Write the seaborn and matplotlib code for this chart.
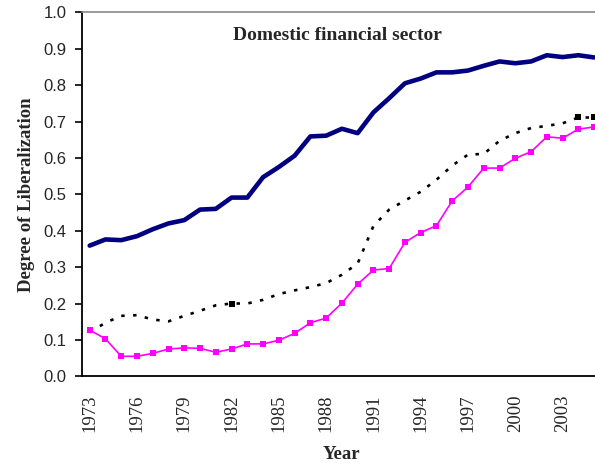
import matplotlib
matplotlib.use("Agg")
import matplotlib.pyplot as plt
import seaborn as sns
import pandas as pd
import numpy as np

years = list(range(1973, 2006))
domestic_fin = [0.359, 0.376, 0.374, 0.385, 0.404, 0.420, 0.429, 0.458, 0.460, 0.491,
                0.491, 0.547, 0.575, 0.606, 0.659, 0.661, 0.680, 0.668, 0.725, 0.764,
                0.805, 0.818, 0.835, 0.835, 0.840, 0.853, 0.865, 0.860, 0.865, 0.882,
                0.877, 0.882, 0.876]
series_dotted = [0.121, 0.147, 0.166, 0.168, 0.156, 0.151, 0.166, 0.180, 0.195, 0.200,
                 0.200, 0.210, 0.226, 0.236, 0.245, 0.256, 0.279, 0.310, 0.413, 0.458,
                 0.483, 0.507, 0.540, 0.579, 0.609, 0.611, 0.647, 0.668, 0.682, 0.688,
                 0.695, 0.711, 0.711]
series_pink = [0.127, 0.103, 0.055, 0.055, 0.063, 0.075, 0.078, 0.077, 0.066, 0.075,
               0.089, 0.089, 0.099, 0.118, 0.147, 0.160, 0.201, 0.253, 0.292, 0.296,
               0.368, 0.395, 0.414, 0.482, 0.520, 0.572, 0.572, 0.599, 0.617, 0.658,
               0.654, 0.679, 0.685]
dotted_marker_years = [1982, 2004, 2005]
label_years = list(range(1973, 2006, 3))
y_ticks = [0.0, 0.1, 0.2, 0.3, 0.4, 0.5, 0.6, 0.7, 0.8, 0.9, 1.0]

df = pd.DataFrame({"idx": np.arange(len(years)), "year": years,
                   "blue": domestic_fin, "dotted": series_dotted, "pink": series_pink})

sns.set_style("white")
plt.rcParams["font.family"] = ["Liberation Serif", "DejaVu Serif"]

fig = plt.figure(figsize=(5.95, 4.68), dpi=100)
W, H = 595, 468
x0, x1 = 81.8, 602.0
ytop, ybot = 12.3, 376.3
ax = fig.add_axes([x0 / W, (H - ybot) / H, (x1 - x0) / W, (ybot - ytop) / H])

sns.lineplot(data=df, x="idx", y="blue", ax=ax, color="#000080", linewidth=3.3,
             solid_capstyle="round", solid_joinstyle="round")
sns.lineplot(data=df, x="idx", y="dotted", ax=ax, color="black", linewidth=1.9,
             linestyle=(0, (1.3, 3.2)), dash_capstyle="butt")
sub = df[df["year"].isin(dotted_marker_years)]
sns.scatterplot(data=sub, x="idx", y="dotted", ax=ax, color="black", marker="s",
                s=14, linewidth=0, zorder=4)
sns.lineplot(data=df, x="idx", y="pink", ax=ax, color="#FF00FF", linewidth=1.2,
             marker="s", markersize=5, markeredgewidth=0)

n = len(years)
ax.set_xlim(-0.5, n - 0.5)
ax.set_ylim(0, 1.0)
ax.set_yticks(y_ticks)
ax.set_yticklabels([f"{v:.1f}" for v in y_ticks], family="Liberation Sans", fontsize=12)
lab_idx = [years.index(y) for y in label_years]
ax.set_xticks(lab_idx)
ax.set_xticklabels([str(y) for y in label_years], rotation=90, fontsize=13.5)
ax.set_xticks(np.arange(n) + 0.5, minor=True)
ax.tick_params(axis="x", which="major", length=0, pad=13)
ax.tick_params(axis="x", which="minor", direction="in", length=5, width=1.2, color="black")
ax.tick_params(axis="y", which="major", direction="out", length=5, width=1.2, pad=6,
               color="black", left=True)

ax.set_xlabel("Year", fontsize=13.5, fontweight="bold", labelpad=10)
ax.set_ylabel("Degree of Liberalization", fontsize=13.5, fontweight="bold", labelpad=6)

for side in ["left", "bottom"]:
    ax.spines[side].set_color("black")
    ax.spines[side].set_linewidth(1.3)
ax.spines["top"].set_color("#888888")
ax.spines["top"].set_linewidth(1.2)
ax.spines["right"].set_visible(False)

ax.text((337 - x0) / (x1 - x0), (ybot - 35) / (ybot - ytop), "Domestic financial sector",
        transform=ax.transAxes, ha="center", va="center", fontsize=14, fontweight="bold")

ax.grid(False)
fig.savefig("out.png", dpi=100)
